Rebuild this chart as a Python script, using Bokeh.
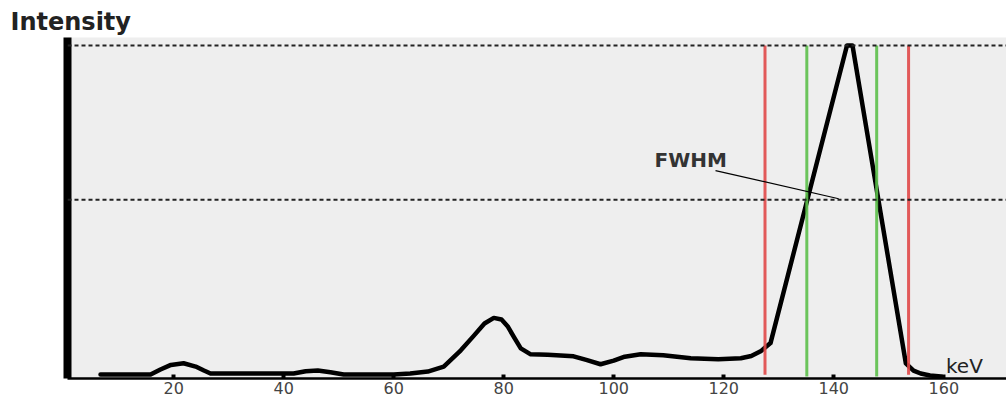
from bokeh.plotting import figure
from bokeh.models import Range1d, FixedTicker, Label, Span, ColumnDataSource, Title
from bokeh.embed import file_html
from bokeh.resources import INLINE

# ---- data ----
energy_kev = [6.7, 15.8, 17.6, 19.5, 21.8, 24.0, 25.5, 26.7, 41.8, 44.0, 46.2, 48.5, 50.9,
              60.0, 63.0, 66.2, 69.1, 72.2, 74.5, 76.5, 78.2, 79.6, 80.7, 82.0, 83.1, 84.9,
              88.0, 92.7, 95.0, 97.6, 100.0, 102.0, 104.9, 109.0, 114.0, 119.0, 123.1, 125.0,
              126.7, 128.5, 142.4, 143.4, 153.1, 154.5, 155.8, 157.5, 159.5]
intensity = [0.6, 0.6, 2.1, 3.5, 4.0, 3.0, 1.8, 0.9, 0.9, 1.6, 1.8, 1.3, 0.6,
             0.6, 0.9, 1.5, 3.0, 7.9, 12.2, 16.0, 17.7, 17.2, 15.2, 11.5, 8.5, 6.7,
             6.6, 6.1, 5.0, 3.7, 4.8, 6.0, 6.7, 6.4, 5.5, 5.2, 5.5, 6.2,
             7.6, 10.1, 100.0, 100.0, 4.0, 1.8, 0.9, 0.3, 0.0]
red_window_kev = [127.5, 153.6]
green_fwhm_kev = [135.1, 147.8]
level_lines = [100.0, 53.4]
tick_kev = [20, 40, 60, 80, 100, 120, 140, 160]

p = figure(width=1006, height=396, output_backend="svg", toolbar_location=None,
           x_range=Range1d(0.7, 171.4), y_range=Range1d(-0.6, 102.4),
           min_border_left=67, min_border_right=0, min_border_top=37, min_border_bottom=0)
p.background_fill_color = "#eeeeee"
p.border_fill_color = "white"
p.outline_line_color = None
p.grid.visible = False

p.title = Title(text="Intensity", align="left", offset=-57, standoff=3,
                text_font="DejaVu Sans", text_font_style="bold",
                text_font_size="24px", text_color="#222222")

# x axis
p.xaxis.ticker = FixedTicker(ticks=tick_kev)
p.xaxis.axis_line_width = 2.5
p.xaxis.axis_line_color = "black"
p.xaxis.major_tick_in = 4
p.xaxis.major_tick_out = 0
p.xaxis.major_tick_line_width = 4
p.xaxis.major_tick_line_color = "black"
p.xaxis.minor_tick_line_color = None
p.xaxis.major_label_standoff = 3
p.xaxis.major_label_text_font = "DejaVu Sans"
p.xaxis.major_label_text_font_size = "16px"
p.xaxis.major_label_text_color = "#444444"

# y axis: thick bar only
p.yaxis.ticker = FixedTicker(ticks=[])
p.yaxis.axis_line_width = 8
p.yaxis.axis_line_color = "black"
p.yaxis.major_tick_line_color = None
p.yaxis.minor_tick_line_color = None
p.yaxis.major_label_text_font_size = "0px"

# curve
src = ColumnDataSource(dict(x=energy_kev, y=intensity))
p.line("x", "y", source=src, line_color="black", line_width=4.5, line_join="round", line_cap="round")

# vertical window lines
p.segment(x0=red_window_kev, y0=[0.5] * len(red_window_kev), x1=red_window_kev, y1=[100] * len(red_window_kev),
          line_color="#e04848", line_width=3, line_alpha=0.9)
p.segment(x0=green_fwhm_kev, y0=[0] * len(green_fwhm_kev), x1=green_fwhm_kev, y1=[100] * len(green_fwhm_kev),
          line_color="#5cbf4a", line_width=3, line_alpha=0.9)

# dotted levels
for lv in level_lines:
    p.add_layout(Span(location=lv, dimension="width", line_color="#222222",
                      line_dash="4 3", line_width=2))

# FWHM leader line and label
p.segment(x0=[118.5], y0=[62.2], x1=[140.9], y1=[53.7], line_color="black", line_width=1.2)
p.add_layout(Label(x=114, y=65.5, text="FWHM", text_font="DejaVu Sans", text_font_style="bold",
                   text_font_size="20px", text_color="#333333", text_align="center",
                   text_baseline="middle"))
p.add_layout(Label(x=160.4, y=3.2, text="keV", text_font="DejaVu Sans",
                   text_font_size="20px", text_color="#222222", text_align="left",
                   text_baseline="alphabetic"))

open("out.html", "w").write(file_html(p, INLINE))
